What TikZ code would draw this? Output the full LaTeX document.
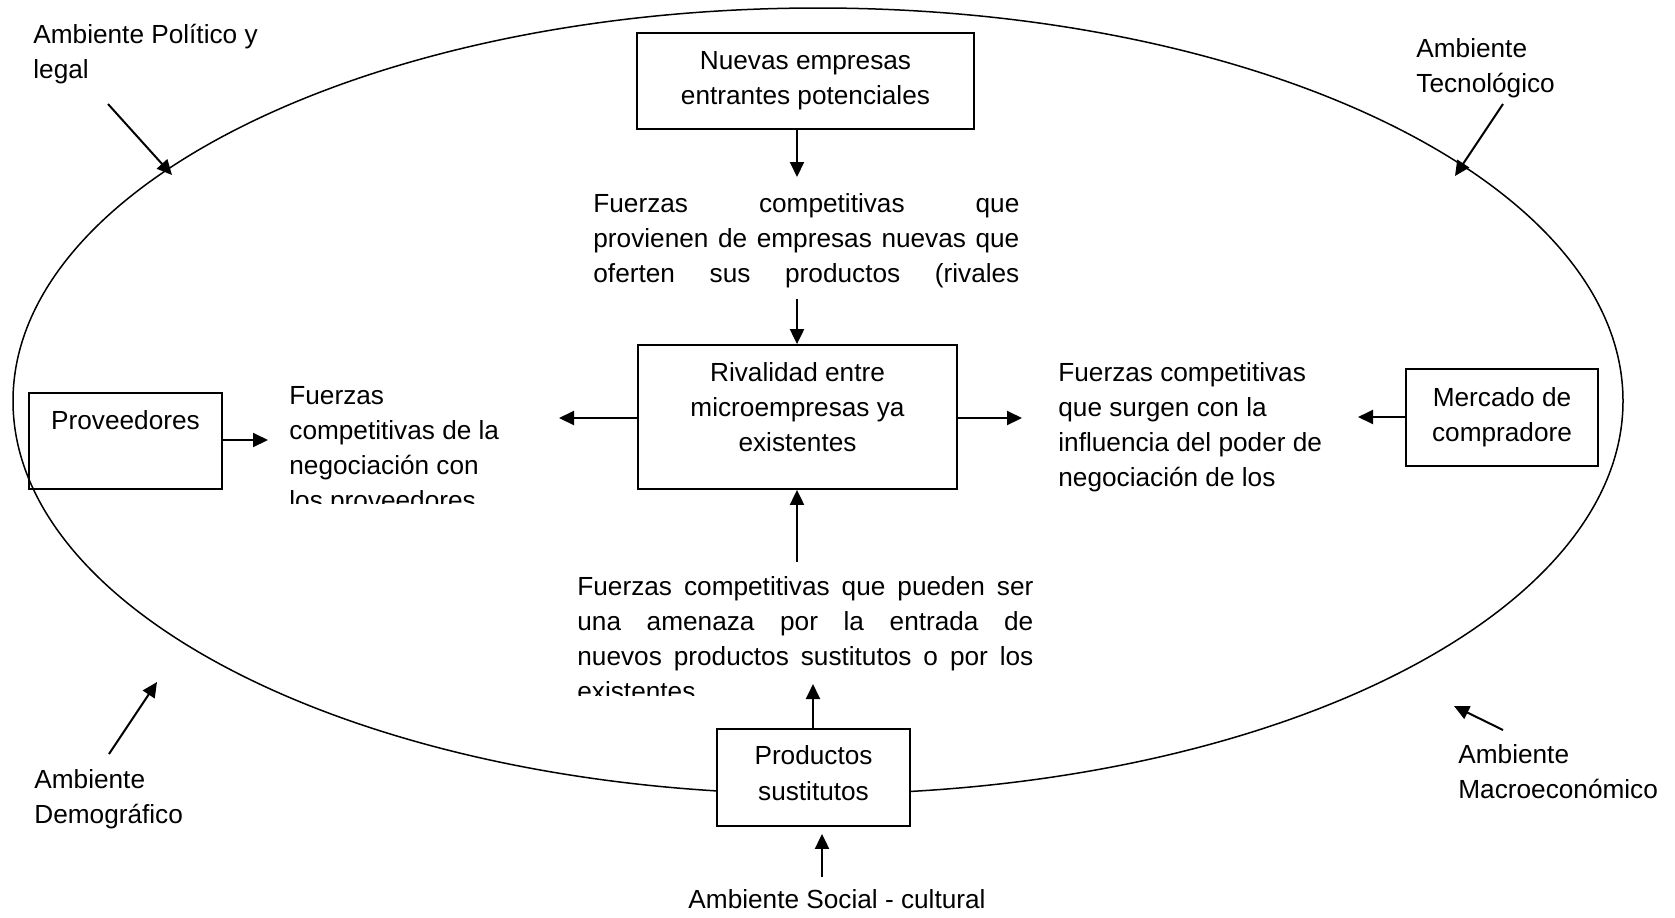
\documentclass[tikz,border=0pt]{standalone}
\usepackage{fontspec}
\setmainfont{Liberation Sans}
\usetikzlibrary{arrows.meta, shapes.geometric}
\hyphenpenalty=10000
\exhyphenpenalty=10000
\tolerance=9999
\hbadness=10000

\begin{document}
\begin{tikzpicture}[x=0.5pt, y=-0.5pt,
    >={Triangle[length=7.5pt, width=7pt]},
    every node/.append style={font=\fontsize{13.1pt}{17.6pt}\selectfont},
    caja/.style={draw, line width=0.9pt, fill=white, inner sep=0pt, align=center},
    texto/.style={inner sep=0pt, anchor=base west, align=left},
    parrafo/.style={inner sep=0pt, anchor=base west, align=justify},
    flecha/.style={->, line width=1pt},
]
\useasboundingbox (0,0) rectangle (1675,917);

% entorno de la empresa
\node[draw, ellipse, line width=0.75pt, minimum width=805pt, minimum height=393pt, inner sep=0pt] (entorno) at (818,401) {};

% las cinco fuerzas
\node[caja, minimum width=168.5pt, minimum height=48pt] (nuevas) at (805.5,81) {Nuevas empresas\\entrantes potenciales};
\node[caja, minimum width=159.5pt, minimum height=72pt, text depth=10pt] (rival) at (797.5,417) {Rivalidad entre\\microempresas ya\\existentes};
\node[caja, fill=none, minimum width=96.5pt, minimum height=48pt, text depth=21pt] (prov) at (125.5,441) {Proveedores};
\node[caja, minimum width=96pt, minimum height=48.5pt] (mercado) at (1502,417.5) {Mercado de\\compradore};
\node[caja, minimum width=96.5pt, minimum height=48.5pt, text depth=4.5pt] (sustitutos) at (813.5,777.5) {Productos\\sustitutos};

% textos de cada fuerza (base = ultima linea en los de varias lineas)
\node[parrafo, text width=213pt] (fzaNuevas) at (593,212) {\parfillskip=0pt\relax Fuerzas competitivas que\linebreak provienen de empresas nuevas que\linebreak oferten sus productos (rivales\par};
\begin{scope}
  \clip (280,370) rectangle (520,503);
  \node[texto] (fzaProv) at (289,509.6) {Fuerzas\\competitivas de la\\negociación con\\los proveedores};
\end{scope}
\node[texto] (fzaComp) at (1058,486.6) {Fuerzas competitivas\\que surgen con la\\influencia del poder de\\negociación de los};
\begin{scope}
  \clip (560,570) rectangle (1050,695);
  \node[parrafo, text width=228pt] (fzaSust) at (577,595) {Fuerzas competitivas que pueden ser\linebreak una amenaza por la entrada de\linebreak nuevos productos sustitutos o por los\linebreak existentes};
\end{scope}

% ambientes
\node[texto] (politico) at (33,78.2) {Ambiente Político y\\legal};
\node[texto] (tecno) at (1416,92.2) {Ambiente\\Tecnológico};
\node[texto] (macro) at (1458,798.2) {Ambiente\\Macroeconómico};
\node[texto] (demo) at (34,823.2) {Ambiente\\Demográfico};
\node[inner sep=0pt, anchor=base] (social) at (837,908) {Ambiente Social - cultural};

% flechas
\coordinate (pNuevas) at (797,177); \coordinate (aRival) at (797,299);
\draw[flecha] (nuevas.south -| pNuevas) -- (pNuevas);
\draw[flecha] (aRival) -- (rival.north -| aRival);
\coordinate (pIzq) at (559,418); \coordinate (pDer) at (1022,418);
\draw[flecha] (rival.west |- pIzq) -- (pIzq); \draw[flecha] (rival.east |- pDer) -- (pDer);
\coordinate (deSust) at (797,562);
\draw[flecha] (deSust) -- (rival.south -| deSust);
\coordinate (pSust) at (813,684);
\draw[flecha] (sustitutos.north -| pSust) -- (pSust);
\coordinate (deSocial) at (822,877);
\draw[flecha, shorten >=3.5pt] (deSocial) -- (sustitutos.south -| deSocial);
\coordinate (pProv) at (268,440);
\draw[flecha] (prov.east |- pProv) -- (pProv);
\coordinate (pMercado) at (1358,417);
\draw[flecha] (mercado.west |- pMercado) -- (pMercado);

\coordinate (dePol) at (108,104); \coordinate (pPol) at (172,175);
\coordinate (deTec) at (1503,104); \coordinate (pTec) at (1455,176);
\coordinate (deMac) at (1503,730); \coordinate (pMac) at (1454,706);
\coordinate (deDem) at (109,754); \coordinate (pDem) at (157,682);
\draw[flecha] (dePol) -- (pPol); \draw[flecha] (deTec) -- (pTec);
\draw[flecha] (deMac) -- (pMac); \draw[flecha] (deDem) -- (pDem);
\end{tikzpicture}
\end{document}
